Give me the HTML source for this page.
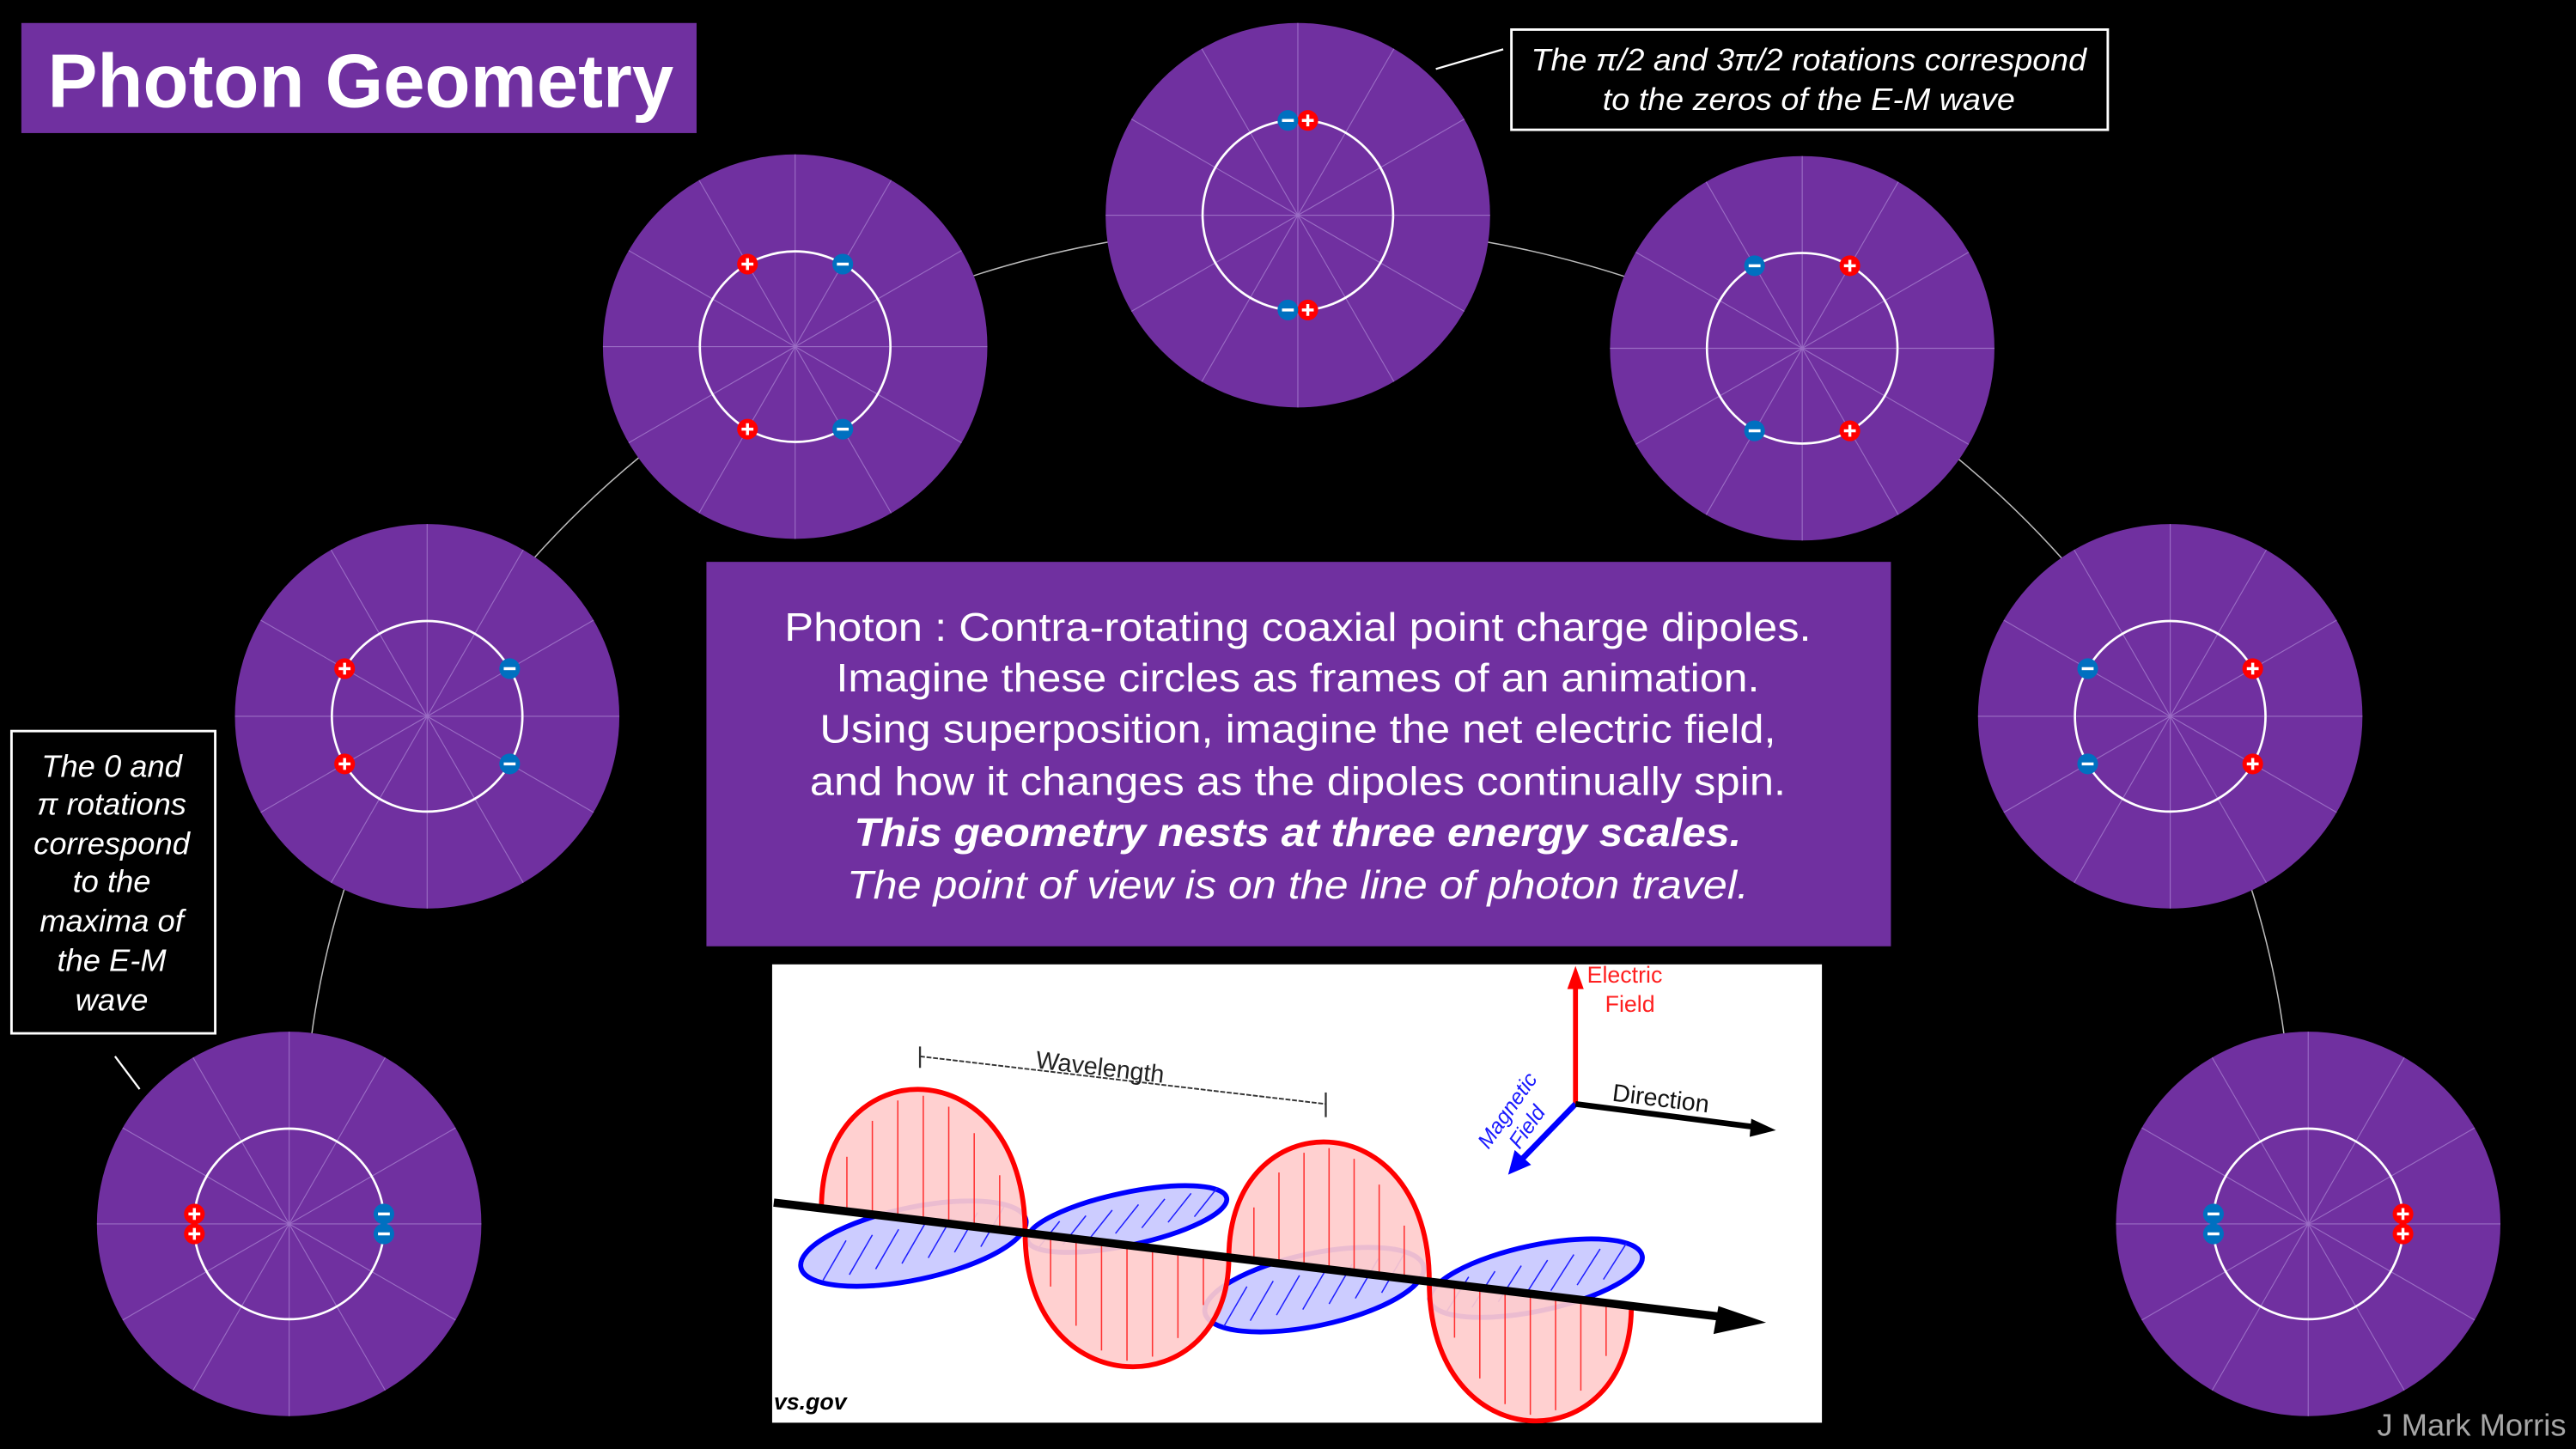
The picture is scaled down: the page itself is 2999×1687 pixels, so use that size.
<!DOCTYPE html>
<html><head><meta charset="utf-8"><title>Photon Geometry</title>
<style>
html,body{margin:0;padding:0;background:#000;overflow:hidden;width:2999px;height:1687px;}
svg{display:block;}
text{font-family:"Liberation Sans",Arial,sans-serif;}
</style></head>
<body>
<svg id="main" width="2999" height="1687" viewBox="0 0 1568 882" preserveAspectRatio="none" xmlns="http://www.w3.org/2000/svg">
<rect x="0" y="0" width="1568" height="882" fill="#000"/>
<path d="M185,700 A605,563 0 0 1 1395,700" fill="none" stroke="#bbbbbb" stroke-width="0.8"/>
<g id="circles"></g>

<rect x="13" y="14" width="411" height="67" fill="#7030a0"/>
<text x="29" y="65" font-size="46" font-weight="bold" fill="#fff" textLength="381" lengthAdjust="spacingAndGlyphs">Photon Geometry</text>

<line x1="874" y1="42" x2="915" y2="30" stroke="#fff" stroke-width="1.2"/>
<rect x="920" y="18" width="363" height="61" fill="#000" stroke="#fff" stroke-width="1.5"/>
<g font-size="19" font-style="italic" fill="#fff" text-anchor="middle">
<text x="1101" y="43" textLength="338" lengthAdjust="spacingAndGlyphs">The π/2 and 3π/2 rotations correspond</text>
<text x="1101" y="67" textLength="251" lengthAdjust="spacingAndGlyphs">to the zeros of the E-M wave</text>
</g>

<line x1="70" y1="643" x2="85" y2="663" stroke="#fff" stroke-width="1.2"/>
<rect x="7" y="445" width="124" height="184" fill="#000" stroke="#fff" stroke-width="1.5"/>
<g font-size="19" font-style="italic" fill="#fff" text-anchor="middle">
<text x="68" y="473">The 0 and</text>
<text x="68" y="496">π rotations</text>
<text x="68" y="520">correspond</text>
<text x="68" y="543">to the</text>
<text x="68" y="567">maxima of</text>
<text x="68" y="591">the E-M</text>
<text x="68" y="615">wave</text>
</g>

<rect x="430" y="342" width="721" height="234" fill="#7030a0"/>
<g font-size="24" fill="#fff" text-anchor="middle">
<text x="790" y="390" textLength="625" lengthAdjust="spacingAndGlyphs">Photon : Contra-rotating coaxial point charge dipoles.</text>
<text x="790" y="421" textLength="562" lengthAdjust="spacingAndGlyphs">Imagine these circles as frames of an animation.</text>
<text x="790" y="452" textLength="582" lengthAdjust="spacingAndGlyphs">Using superposition, imagine the net electric field,</text>
<text x="790" y="484" textLength="594" lengthAdjust="spacingAndGlyphs">and how it changes as the dipoles continually spin.</text>
<text x="790" y="515" font-weight="bold" font-style="italic" textLength="540" lengthAdjust="spacingAndGlyphs">This geometry nests at three energy scales.</text>
<text x="790" y="547" font-style="italic" textLength="549" lengthAdjust="spacingAndGlyphs">The point of view is on the line of photon travel.</text>
</g>

<g id="wave">
<rect x="470" y="587" width="639" height="279" fill="#fff"/>
<g id="lobes"></g>
<line x1="471" y1="732" x2="1060" y2="803" stroke="#000" stroke-width="5"/>
<polygon points="1075,805 1046,795 1043,812" fill="#000"/>
<line x1="560" y1="643" x2="807" y2="672" stroke="#333" stroke-width="1" stroke-dasharray="3,1"/>
<line x1="560" y1="637" x2="560" y2="650" stroke="#333" stroke-width="1.2"/>
<line x1="807" y1="665" x2="807" y2="680" stroke="#333" stroke-width="1.2"/>
<text x="630" y="650" font-size="15" fill="#222" transform="rotate(6.7 630 650)">Wavelength</text>
<line x1="959" y1="672" x2="959" y2="600" stroke="#ff0000" stroke-width="3"/>
<polygon points="959,588 954,602 964,602" fill="#ff0000"/>
<text x="966" y="598" font-size="14" fill="#ff2020">Electric</text>
<text x="977" y="616" font-size="14" fill="#ff2020">Field</text>
<line x1="959" y1="672" x2="926" y2="706" stroke="#0000ff" stroke-width="3.5"/>
<polygon points="918,715 922,700 932,709" fill="#0000ff"/>
<text x="906" y="700" font-size="13" font-style="italic" fill="#1a1aff" transform="rotate(-55 906 700)">Magnetic</text>
<text x="925" y="700" font-size="13" font-style="italic" fill="#1a1aff" transform="rotate(-55 925 700)">Field</text>
<line x1="959" y1="672" x2="1068" y2="686" stroke="#000" stroke-width="3.5"/>
<polygon points="1081,688 1066,681 1065,692" fill="#000"/>
<text x="981" y="670" font-size="15" fill="#111" transform="rotate(7 981 670)">Direction</text>
<text x="471" y="858" font-size="14" font-style="italic" font-weight="bold" fill="#000">vs.gov</text>
</g>

<text x="1562" y="874" font-size="19" fill="#a6a6a6" text-anchor="end">J Mark Morris</text>
</svg>
<script>
// frame centres & charge angles (degrees, math convention; y up)
const frameX = [176, 260, 484, 790, 1097, 1321, 1405];
const frameY = [745, 436, 211, 131, 212, 436, 745];
const plusAngles = [[174,186],[150,210],[120,240],[84,276],[60,300],[30,330],[6,354]];
const minusAngles = [[6,354],[30,330],[60,300],[96,264],[120,240],[150,210],[174,186]];
const R_OUT = 117, R_IN = 58, R_Q = 6.3;
const NS = "http://www.w3.org/2000/svg";
const g = document.getElementById('circles');
function mk(tag, attrs, parent){const e=document.createElementNS(NS,tag);for(const k in attrs)e.setAttribute(k,attrs[k]);parent.appendChild(e);return e;}
function charge(cx,cy,ang,sign,parent){
  const a=ang*Math.PI/180, x=cx+R_IN*Math.cos(a), y=cy-R_IN*Math.sin(a);
  const c=mk('circle',{cx:x,cy:y,r:R_Q,fill:sign>0?'#ff0000':'#0070c0'},parent);
  
  
  mk('line',{x1:x-3.6,y1:y,x2:x+3.6,y2:y,stroke:'#fff','stroke-width':1.8},parent);
  if(sign>0) mk('line',{x1:x,y1:y-3.6,x2:x,y2:y+3.6,stroke:'#fff','stroke-width':1.8},parent);
}
for(let i=0;i<frameX.length;i++){
  const cx=frameX[i], cy=frameY[i];
  const fg=mk('g',{},g);
  
  
  mk('circle',{cx,cy,r:R_OUT,fill:'#7030a0'},fg);
  for(let k=0;k<6;k++){const a=k*30*Math.PI/180;
    mk('line',{x1:cx-R_OUT*Math.cos(a),y1:cy-R_OUT*Math.sin(a),x2:cx+R_OUT*Math.cos(a),y2:cy+R_OUT*Math.sin(a),stroke:'#9a6cc4','stroke-width':0.6},fg);}
  mk('circle',{cx,cy,r:R_IN,fill:'none',stroke:'#fff','stroke-width':1.4},fg);
  plusAngles[i].forEach(a=>charge(cx,cy,a,1,fg));
  minusAngles[i].forEach(a=>charge(cx,cy,a,-1,fg));
}
// EM wave lobes
const nodesX = [500, 624, 748, 870, 993];
const redPeaks = [663, 832, 695, 865];
const blueCx = [556, 686, 800, 935];
const blueCy = [757, 742, 785, 778];
const blueRx = [70, 62, 68, 66];
const blueRy = [22, 16, 22, 20];
const lobes=document.getElementById('lobes');
function axisY(x){return 732+(x-471)*73/604;}
for(let i=0;i<blueCx.length;i++){
  const e=mk('ellipse',{cx:blueCx[i],cy:blueCy[i],rx:blueRx[i],ry:blueRy[i],fill:'#ccccff',stroke:'#0000ff','stroke-width':3,transform:`rotate(-12 ${blueCx[i]} ${blueCy[i]})`},lobes);
  
  
  for(let k=-3;k<=3;k++){const x=blueCx[i]+k*16;const y=blueCy[i]-k*3.4;
    mk('line',{x1:x-7,y1:y+blueRy[i]*0.55,x2:x+7,y2:y-blueRy[i]*0.55,stroke:'#2020ff','stroke-width':0.8},lobes);}
}
for(let i=0;i<redPeaks.length;i++){
  const x1=nodesX[i], x2=nodesX[i+1], y1=axisY(x1), y2=axisY(x2);
  const ym=(y1+y2)/2, c=ym+(redPeaks[i]-ym)*1.33;
  const p=mk('path',{d:`M${x1},${y1} C${x1},${c} ${x2},${c} ${x2},${y2} Z`,fill:'#ffcccc','fill-opacity':0.92,stroke:'#ff0000','stroke-width':3},lobes);
  
  
  for(let k=1;k<8;k++){const x=x1+(x2-x1)*k/8;const t=k/8;const h=(redPeaks[i]-ym)*4*t*(1-t)*0.95;
    mk('line',{x1:x,y1:axisY(x),x2:x,y2:axisY(x)+h,stroke:'#ff3030','stroke-width':0.8},lobes);}
}
</script>
</body></html>
